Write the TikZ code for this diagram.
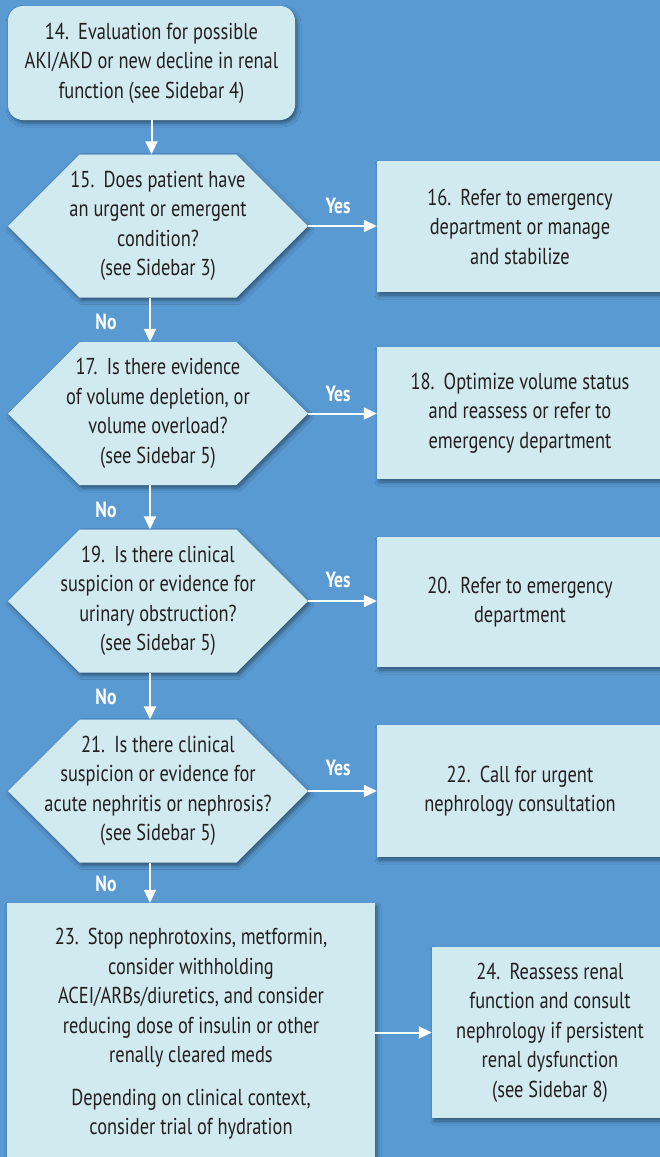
\documentclass[tikz,border=0pt]{standalone}
\usepackage{fontspec}
\setmainfont{PT Sans}[FakeStretch=0.8]
\usetikzlibrary{arrows.meta,shadows.blur,calc}
\definecolor{bgblue}{RGB}{89,154,211}
\definecolor{boxfill}{RGB}{209,234,240}
\definecolor{txt}{RGB}{35,31,32}
\newcommand{\numsp}{\hspace{0.4em}}
\newcommand{\hexshape}[1]{%
  \fill[boxfill, boxshadow] ($(#1)+(-150,0)$) -- ($(#1)+(-78.5,-71.5)$) -- ($(#1)+(78.5,-71.5)$)
    -- ($(#1)+(150,0)$) -- ($(#1)+(78.5,71.5)$) -- ($(#1)+(-78.5,71.5)$) -- cycle;}
\tikzset{
  boxshadow/.style={blur shadow={shadow xshift=2pt,shadow yshift=-3pt,shadow blur radius=4pt,shadow opacity=45}},
  procbox/.style={rectangle, fill=boxfill, boxshadow, align=center, inner sep=0pt, text=txt, font=\fontsize{23}{29.5}\selectfont},
  hexbox/.style={rectangle, align=center, minimum width=300pt, minimum height=143pt, inner sep=0pt, text=txt, font=\fontsize{23}{29.5}\selectfont},
  arr/.style={draw=white, line width=2pt, -{Triangle[length=13pt,width=12pt]}},
  yn/.style={text=white, font=\fontsize{22}{26}\selectfont\bfseries, inner sep=0pt}
}
\begin{document}
\begin{tikzpicture}[x=1pt,y=-1pt]
\fill[bgblue] (0,0) rectangle (660,1157);
\useasboundingbox (0,0) rectangle (660,1157);

\coordinate (c15) at (158,226);
\coordinate (c17) at (158,413.5);
\coordinate (c19) at (158,601);
\coordinate (c21) at (158,791);
\hexshape{c15}
\hexshape{c17}
\hexshape{c19}
\hexshape{c21}

\node[procbox, rounded corners=15pt, minimum width=287pt, minimum height=114pt] (n14) at (151.5,63)
  {14.\numsp Evaluation for possible\\AKI/AKD or new decline in renal\\function (see Sidebar 4)};

\node[hexbox] (n15) at (c15) {15.\numsp Does patient have\\an urgent or emergent\\condition?\\(see Sidebar 3)};
\node[procbox, minimum width=286pt, minimum height=131pt] (n16) at (520,226.5)
  {16.\numsp Refer to emergency\\department or manage\\and stabilize};

\node[hexbox] (n17) at (c17) {17.\numsp Is there evidence\\of volume depletion, or\\volume overload?\\(see Sidebar 5)};
\node[procbox, minimum width=286pt, minimum height=132pt] (n18) at (520,413)
  {18.\numsp Optimize volume status\\and reassess or refer to\\emergency department};

\node[hexbox] (n19) at (c19) {19.\numsp Is there clinical\\suspicion or evidence for\\urinary obstruction?\\(see Sidebar 5)};
\node[procbox, minimum width=286pt, minimum height=130pt] (n20) at (520,602)
  {20.\numsp Refer to emergency\\department};

\node[hexbox] (n21) at (c21) {21.\numsp Is there clinical\\suspicion or evidence for\\acute nephritis or nephrosis?\\(see Sidebar 5)};
\node[procbox, minimum width=286pt, minimum height=132pt] (n22) at (520,791)
  {22.\numsp Call for urgent\\nephrology consultation};

\node[procbox, minimum width=368pt, minimum height=262pt] (n23) at (191,1034)
  {23.\numsp Stop nephrotoxins, metformin,\\consider withholding\\ACEI/ARBs/diuretics, and consider\\reducing dose of insulin or other\\renally cleared meds\\[13pt]Depending on clinical context,\\consider trial of hydration};
\node[procbox, minimum width=236pt, minimum height=171pt] (n24) at (550,1032.5)
  {24.\numsp Reassess renal\\function and consult\\nephrology if persistent\\renal dysfunction\\(see Sidebar 8)};

\draw[arr] (n14.south) -- (n14.south |- n15.north);
\draw[arr] ([xshift=-8pt]n15.south) -- ([xshift=-8pt]n17.north);
\draw[arr] ([xshift=-8pt]n17.south) -- ([xshift=-8pt]n19.north);
\draw[arr] ([xshift=-8pt]n19.south) -- ([xshift=-8pt]n21.north);
\draw[arr] ([xshift=-8pt]n21.south) -- ([xshift=-8pt]n21.south |- n23.north);

\draw[arr] (n15.east) -- (n15.east -| n16.west);
\draw[arr] (n17.east) -- (n17.east -| n18.west);
\draw[arr] (n19.east) -- (n19.east -| n20.west);
\draw[arr] (n21.east) -- (n21.east -| n22.west);
\draw[arr] (n23.east |- n24.west) -- (n24.west);

\node[yn] (y15) at (338,206) {Yes};
\node[yn] (y17) at (338,394) {Yes};
\node[yn] (y19) at (338,580) {Yes};
\node[yn] (y21) at (338,768) {Yes};
\node[yn] (no15) at (106,322) {No};
\node[yn] (no17) at (106,510) {No};
\node[yn] (no19) at (106,697) {No};
\node[yn] (no21) at (106,884) {No};
\end{tikzpicture}
\end{document}
